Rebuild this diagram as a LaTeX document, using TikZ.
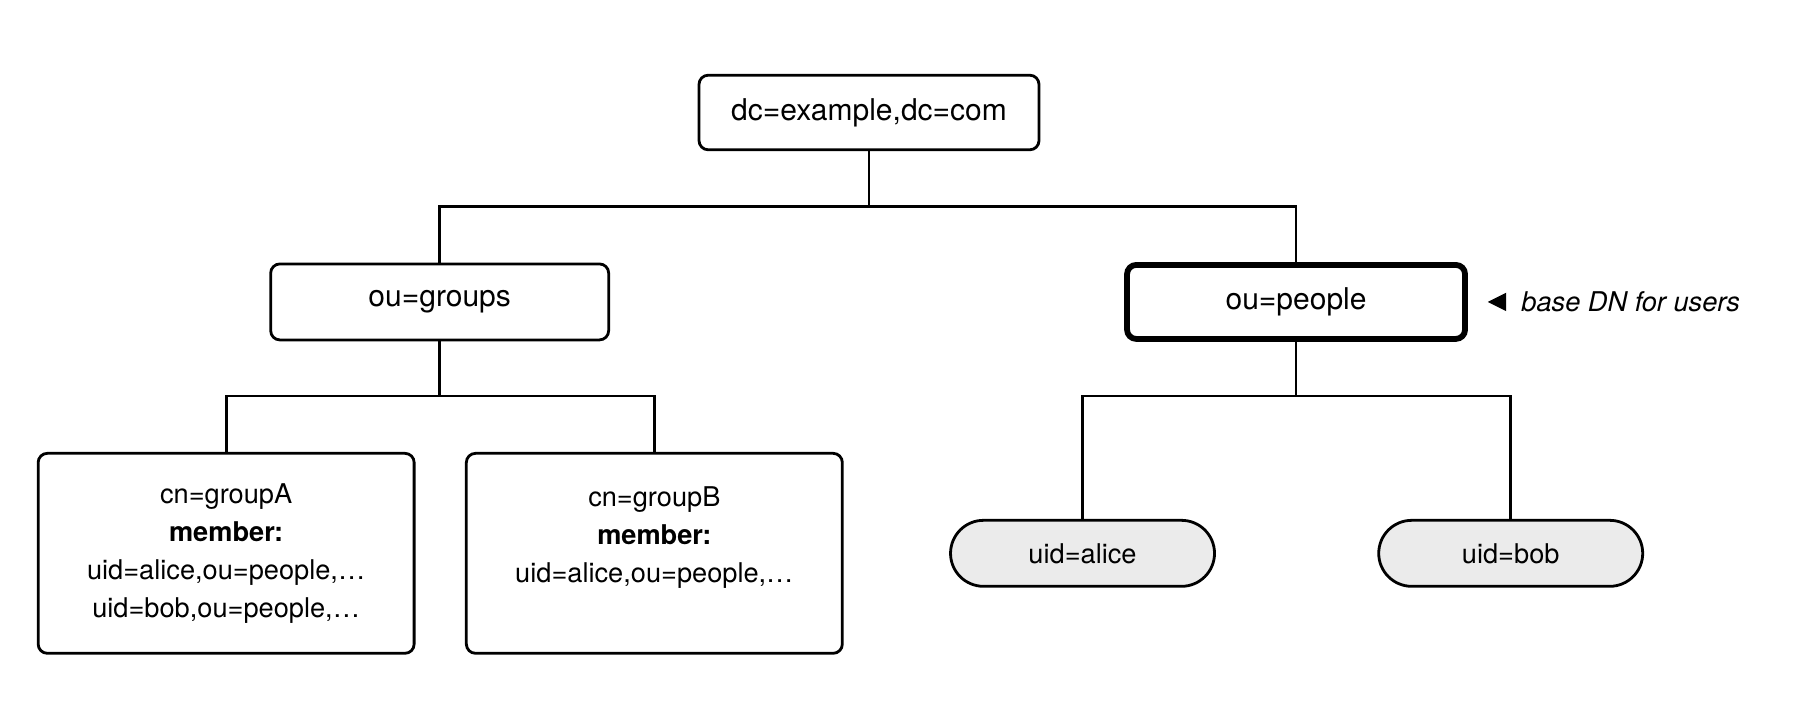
\documentclass[tikz,border=0pt]{standalone}
\usepackage{fontspec}
\setmainfont{TeX Gyre Heros}
\begin{document}
\begin{tikzpicture}[x=0.574pt,y=-0.574pt,
  box/.style={draw,line width=1.4pt,rounded corners=4.6pt,align=center,inner sep=0pt},
  big/.style={font=\fontsize{15}{18}\selectfont},
  grp/.style={box,minimum width=188pt,minimum height=100pt,font=\fontsize{13.6}{19}\selectfont},
  pill/.style={draw,line width=1.4pt,rounded corners=16.5pt,fill=black!8,minimum width=132pt,minimum height=33pt,inner sep=0pt,font=\fontsize{13.6}{16}\selectfont},
  edge/.style={line width=1.4pt}]
\useasboundingbox (0,0) rectangle (1568,632);
\node[box,big,minimum width=170pt,minimum height=37.3pt] (root) at (757,98) {dc=example,dc=com};
\node[box,big,minimum width=169pt,minimum height=38pt] (groups) at (383,263) {ou=groups};
\node[box,big,line width=2.9pt,minimum width=169pt,minimum height=37pt] (people) at (1129,263) {ou=people};
\node[grp] (ga) at (197,482) {cn=groupA\\\textbf{member:}\\uid=alice,ou=people,…\\uid=bob,ou=people,…};
\node[grp] (gb) at (570,482) {cn=groupB\\\textbf{member:}\\uid=alice,ou=people,…\\\mbox{}};
\node[pill] (alice) at (943,482) {uid=alice};
\node[pill] (bob) at (1316,482) {uid=bob};
\coordinate (b1) at (757,180);
\coordinate (b2) at (383,345);
\coordinate (b3) at (1129,345);
\draw[edge] (root.south) -- (b1) -| (groups.north);
\draw[edge] (b1) -| (people.north);
\draw[edge] (groups.south) -- (b2) -| (ga.north);
\draw[edge] (b2) -| (gb.north);
\draw[edge] (people.south) -- (b3) -| (alice.north);
\draw[edge] (b3) -| (bob.north);
\fill (1296,263) -- (1312,255) -- (1312,271) -- cycle;
\node[anchor=west,inner sep=0pt,font=\fontsize{13.6}{16}\selectfont\itshape] (note) at (1325,263) {base DN for users};
\end{tikzpicture}
\end{document}
